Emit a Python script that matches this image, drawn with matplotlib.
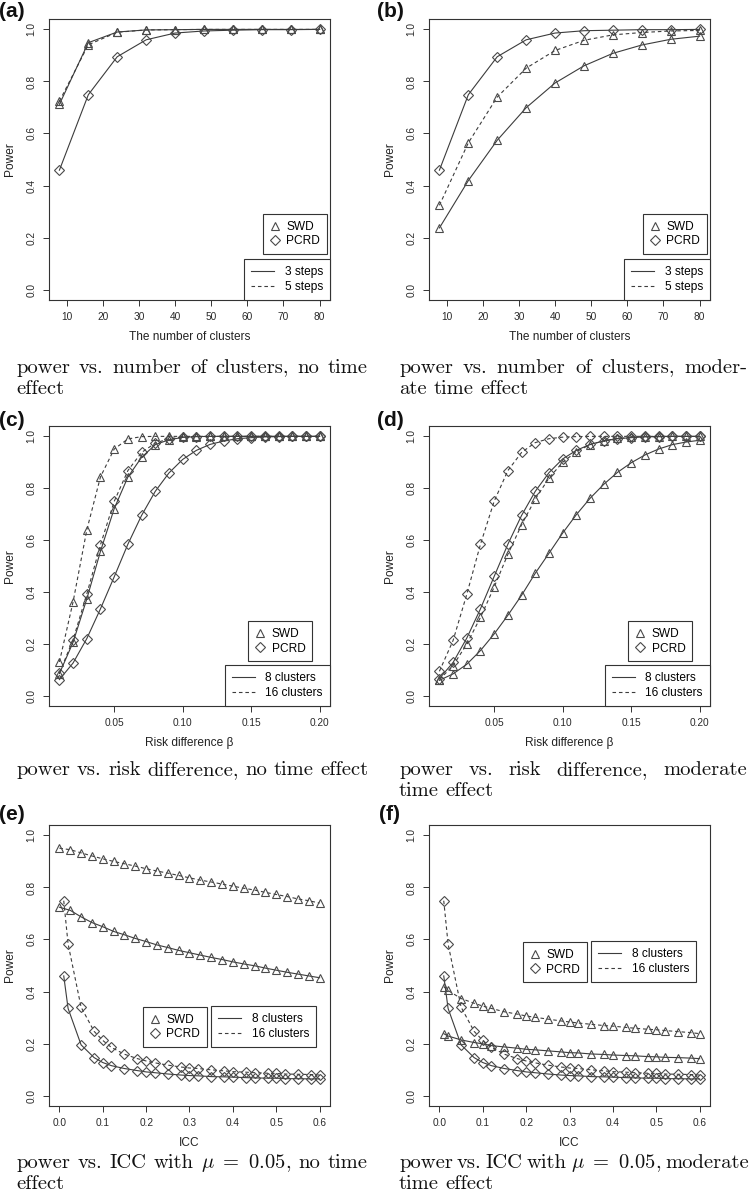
import matplotlib
matplotlib.use('Agg')
import matplotlib.pyplot as plt
from matplotlib.lines import Line2D

plt.rcParams['font.family'] = ['Liberation Sans', 'DejaVu Sans']
plt.rcParams['mathtext.fontset'] = 'cm'

W, H = 749, 1201

# ---------------- data ----------------
clusters = [8, 16, 24, 32, 40, 48, 56, 64, 72, 80]
a_swd_3 = [0.712, 0.949, 0.990, 0.998, 0.999, 1.0, 1.0, 1.0, 1.0, 1.0]
a_swd_5 = [0.724, 0.941, 0.989, 0.998, 0.999, 1.0, 1.0, 1.0, 1.0, 1.0]
a_pcrd = [0.459, 0.749, 0.895, 0.960, 0.986, 0.994, 0.997, 0.999, 0.999, 1.0]
b_swd_3 = [0.237, 0.419, 0.574, 0.699, 0.794, 0.860, 0.908, 0.940, 0.962, 0.974]
b_swd_5 = [0.324, 0.564, 0.740, 0.851, 0.919, 0.958, 0.979, 0.988, 0.994, 0.996]
b_pcrd = [0.459, 0.749, 0.895, 0.960, 0.986, 0.995, 0.997, 0.999, 0.999, 1.0]

risk = [0.01, 0.02, 0.03, 0.04, 0.05, 0.06, 0.07, 0.08, 0.09, 0.10,
        0.11, 0.12, 0.13, 0.14, 0.15, 0.16, 0.17, 0.18, 0.19, 0.20]
c_swd_8 = [0.085, 0.206, 0.373, 0.557, 0.721, 0.843, 0.919, 0.968, 0.987, 0.996,
           0.999, 1.0, 1.0, 1.0, 1.0, 1.0, 1.0, 1.0, 1.0, 1.0]
c_swd_16 = [0.130, 0.362, 0.639, 0.844, 0.951, 0.990, 0.999, 1.0, 1.0, 1.0,
            1.0, 1.0, 1.0, 1.0, 1.0, 1.0, 1.0, 1.0, 1.0, 1.0]
c_pcrd_8 = [0.062, 0.126, 0.220, 0.335, 0.458, 0.584, 0.695, 0.788, 0.859, 0.911,
            0.946, 0.969, 0.982, 0.991, 0.995, 0.998, 0.999, 1.0, 1.0, 1.0]
c_pcrd_16 = [0.087, 0.216, 0.392, 0.582, 0.749, 0.868, 0.938, 0.974, 0.991, 0.997,
             0.999, 1.0, 1.0, 1.0, 1.0, 1.0, 1.0, 1.0, 1.0, 1.0]
d_swd_8 = [0.059, 0.084, 0.121, 0.174, 0.238, 0.310, 0.387, 0.472, 0.549, 0.627,
           0.698, 0.761, 0.815, 0.861, 0.898, 0.928, 0.951, 0.968, 0.978, 0.985]
d_swd_16 = [0.062, 0.116, 0.199, 0.302, 0.419, 0.545, 0.659, 0.758, 0.839, 0.900,
            0.941, 0.968, 0.983, 0.992, 0.996, 0.998, 0.999, 1.0, 1.0, 1.0]
d_pcrd_8 = [0.066, 0.128, 0.222, 0.335, 0.460, 0.584, 0.695, 0.788, 0.860, 0.913,
            0.946, 0.969, 0.982, 0.991, 0.995, 0.998, 0.999, 1.0, 1.0, 1.0]
d_pcrd_16 = [0.094, 0.213, 0.391, 0.584, 0.750, 0.868, 0.938, 0.976, 0.991, 0.997,
             0.999, 1.0, 1.0, 1.0, 1.0, 1.0, 1.0, 1.0, 1.0, 1.0]

icc_fine = [0.0, 0.025, 0.05, 0.075, 0.1, 0.125, 0.15, 0.175, 0.2, 0.225, 0.25, 0.275, 0.3,
            0.325, 0.35, 0.375, 0.4, 0.425, 0.45, 0.475, 0.5, 0.525, 0.55, 0.575, 0.6]
icc = [0.01, 0.02, 0.05, 0.08, 0.10, 0.12, 0.15, 0.18, 0.20, 0.22, 0.25, 0.28, 0.30,
       0.32, 0.35, 0.38, 0.40, 0.43, 0.45, 0.48, 0.50, 0.52, 0.55, 0.58, 0.60]
e_swd_8 = [0.724, 0.712, 0.687, 0.665, 0.649, 0.631, 0.618, 0.604, 0.592, 0.579, 0.569, 0.558, 0.549,
           0.540, 0.531, 0.523, 0.514, 0.506, 0.499, 0.490, 0.482, 0.474, 0.467, 0.460, 0.453]
e_swd_16 = [0.951, 0.945, 0.933, 0.921, 0.910, 0.900, 0.891, 0.882, 0.872, 0.863, 0.855, 0.846, 0.837,
            0.828, 0.821, 0.813, 0.805, 0.797, 0.790, 0.781, 0.773, 0.765, 0.756, 0.749, 0.740]
e_pcrd_8 = [0.460, 0.335, 0.195, 0.146, 0.127, 0.115, 0.104, 0.096, 0.091, 0.088, 0.083, 0.079, 0.077,
            0.076, 0.073, 0.072, 0.071, 0.069, 0.068, 0.067, 0.067, 0.065, 0.065, 0.064, 0.064]
e_pcrd_16 = [0.749, 0.583, 0.340, 0.247, 0.212, 0.185, 0.159, 0.142, 0.133, 0.126, 0.117, 0.110, 0.106,
             0.104, 0.099, 0.095, 0.092, 0.090, 0.088, 0.086, 0.085, 0.083, 0.082, 0.081, 0.079]
f_swd_8 = [0.238, 0.229, 0.214, 0.204, 0.199, 0.192, 0.187, 0.182, 0.178, 0.176, 0.172, 0.168, 0.165,
           0.164, 0.160, 0.158, 0.156, 0.154, 0.153, 0.150, 0.149, 0.147, 0.146, 0.144, 0.142]
f_swd_16 = [0.419, 0.404, 0.373, 0.355, 0.344, 0.335, 0.322, 0.313, 0.306, 0.301, 0.294, 0.287, 0.283,
            0.279, 0.274, 0.269, 0.267, 0.262, 0.259, 0.255, 0.253, 0.250, 0.246, 0.242, 0.238]
f_pcrd_8 = [0.460, 0.335, 0.195, 0.146, 0.127, 0.115, 0.104, 0.096, 0.091, 0.088, 0.083, 0.079, 0.077,
            0.076, 0.073, 0.072, 0.071, 0.069, 0.068, 0.067, 0.067, 0.065, 0.065, 0.064, 0.064]
f_pcrd_16 = [0.749, 0.583, 0.340, 0.247, 0.212, 0.185, 0.159, 0.142, 0.133, 0.126, 0.117, 0.110, 0.106,
             0.104, 0.099, 0.095, 0.092, 0.090, 0.088, 0.086, 0.085, 0.083, 0.082, 0.081, 0.079]

power_ticks = [0.0, 0.2, 0.4, 0.6, 0.8, 1.0]
cluster_ticks = [10, 20, 30, 40, 50, 60, 70, 80]
risk_ticks = [0.05, 0.10, 0.15, 0.20]
icc_ticks = [0.0, 0.1, 0.2, 0.3, 0.4, 0.5, 0.6]

panel_labels = ['(a)', '(b)', '(c)', '(d)', '(e)', '(f)']
captions = [
    (["power", "vs.", "number", "of", "clusters,", "no", "time"], ["effect"]),
    (["power", "vs.", "number", "of", "clusters,", "moder-"], ["ate", "time", "effect"]),
    (["power", "vs.", "risk", "difference,", "no", "time", "effect"], []),
    (["power", "vs.", "risk", "difference,", "moderate"], ["time", "effect"]),
    (["power", "vs.", "ICC", "with", r"$\mu\ =\ 0.05$,", "no", "time"], ["effect"]),
    (["power", "vs.", "ICC", "with", r"$\mu\ =\ 0.05$,", "moderate"], ["time", "effect"]),
]

# ---------------- style ----------------
LC = '#3c3c3c'
MC = '#4a4a4a'
AC = '#333333'
LW = 0.8
DASH = (3.2, 2.6)
CAP_FS = 14.8

fig = plt.figure(figsize=(W / 100, H / 100), dpi=100)


def px_axes(l, t, r, b):
    return fig.add_axes([l / W, 1 - b / H, (r - l) / W, (b - t) / H])


boxes = [(49, 19, 330, 300), (429, 19, 710, 300),
         (49, 426, 330, 706), (429, 426, 710, 706),
         (49, 825, 330, 1106), (429, 825, 710, 1106)]
axes = [px_axes(*bx) for bx in boxes]


def series(ax, x, y, marker, dashed):
    kw = dict(color=LC, lw=LW, marker=marker, mfc='none', mec=MC, mew=0.8,
              ms=5.6 if marker == '^' else 4.6)
    line, = ax.plot(x, y, **kw)
    if dashed:
        line.set_dashes(DASH)


def setup(ax, xlim, xticks, xfmt, xlabel):
    ax.set_xlim(*xlim)
    ax.set_ylim(-0.04, 1.04)
    ax.set_xticks(xticks)
    ax.set_xticklabels([xfmt.format(v) for v in xticks])
    ax.set_yticks(power_ticks)
    ax.set_yticklabels(['{:.1f}'.format(v) for v in power_ticks])
    ax.tick_params(length=4.5, width=0.7, color=AC, labelsize=7.3, labelcolor='#2a2a2a')
    ax.tick_params(axis='x', pad=4)
    ax.tick_params(axis='y', pad=4.5)
    for lab in ax.get_yticklabels():
        lab.set_rotation(90)
        lab.set_va('center')
    for s in ax.spines.values():
        s.set_color(AC)
        s.set_linewidth(0.8)
    ax.set_xlabel(xlabel, fontsize=8.6, color='#222222')
    ax.xaxis.set_label_coords(0.5, -37 / 281)
    ax.xaxis.label.set_va('center')
    ax.set_ylabel('Power', fontsize=8.6, color='#222222')
    ax.yaxis.set_label_coords(-38.5 / 281, 0.5)
    ax.yaxis.label.set_va('center')


def legends(ax, lab1, lab2, mark_anchor, mark_loc, line_anchor, line_loc):
    hm = [Line2D([], [], ls='none', marker='^', mfc='none', mec=MC, mew=0.8, ms=5.6, label='SWD'),
          Line2D([], [], ls='none', marker='D', mfc='none', mec=MC, mew=0.8, ms=4.6, label='PCRD')]
    common = dict(fontsize=8.6, frameon=True, fancybox=False, edgecolor=AC, framealpha=1,
                  borderaxespad=0, labelspacing=0.22)
    leg1 = ax.legend(handles=hm, loc=mark_loc, bbox_to_anchor=mark_anchor, borderpad=0.55,
                     handlelength=1.0, handletextpad=0.45, **common)
    leg1.get_frame().set_linewidth(0.8)
    ax.add_artist(leg1)
    l1 = Line2D([], [], color=LC, lw=LW, label=lab1)
    l2 = Line2D([], [], color=LC, lw=LW, label=lab2)
    l2.set_dashes(DASH)
    leg2 = ax.legend(handles=[l1, l2], loc=line_loc, bbox_to_anchor=line_anchor, borderpad=0.6,
                     handlelength=1.9, handletextpad=0.9, **common)
    leg2.get_frame().set_linewidth(0.8)


# (a)
ax = axes[0]
series(ax, clusters, a_pcrd, 'D', False)
series(ax, clusters, a_swd_3, '^', False)
series(ax, clusters, a_swd_5, '^', True)
setup(ax, (5.12, 82.88), cluster_ticks, '{:d}', 'The number of clusters')
legends(ax, '3 steps', '5 steps', (0.989, 0.164), 'lower right', (1, 0), 'lower right')

# (b)
ax = axes[1]
series(ax, clusters, b_pcrd, 'D', False)
series(ax, clusters, b_swd_3, '^', False)
series(ax, clusters, b_swd_5, '^', True)
setup(ax, (5.12, 82.88), cluster_ticks, '{:d}', 'The number of clusters')
legends(ax, '3 steps', '5 steps', (0.989, 0.164), 'lower right', (1, 0), 'lower right')

# (c)
ax = axes[2]
series(ax, risk, c_pcrd_8, 'D', False)
series(ax, risk, c_pcrd_16, 'D', True)
series(ax, risk, c_swd_8, '^', False)
series(ax, risk, c_swd_16, '^', True)
setup(ax, (0.0024, 0.2076), risk_ticks, '{:.2f}', 'Risk difference β')
legends(ax, '8 clusters', '16 clusters', (0.936, 0.16), 'lower right', (1, 0), 'lower right')

# (d)
ax = axes[3]
series(ax, risk, d_pcrd_8, 'D', False)
series(ax, risk, d_pcrd_16, 'D', True)
series(ax, risk, d_swd_8, '^', False)
series(ax, risk, d_swd_16, '^', True)
setup(ax, (0.0024, 0.2076), risk_ticks, '{:.2f}', 'Risk difference β')
legends(ax, '8 clusters', '16 clusters', (0.936, 0.16), 'lower right', (1, 0), 'lower right')

# (e)
ax = axes[4]
series(ax, icc, e_pcrd_8, 'D', False)
series(ax, icc, e_pcrd_16, 'D', True)
series(ax, icc_fine, e_swd_8, '^', False)
series(ax, icc_fine, e_swd_16, '^', True)
setup(ax, (-0.024, 0.624), icc_ticks, '{:.1f}', 'ICC')
legends(ax, '8 clusters', '16 clusters', (0.562, 0.21), 'lower right', (0.577, 0.21), 'lower left')

# (f)
ax = axes[5]
series(ax, icc, f_pcrd_8, 'D', False)
series(ax, icc, f_pcrd_16, 'D', True)
series(ax, icc, f_swd_8, '^', False)
series(ax, icc, f_swd_16, '^', True)
setup(ax, (-0.024, 0.624), icc_ticks, '{:.1f}', 'ICC')
legends(ax, '8 clusters', '16 clusters', (0.562, 0.441), 'lower right', (0.577, 0.441), 'lower left')

# panel labels
label_pos = [(-1, 17), (377, 17), (-1, 426), (377, 426), (-1, 820), (379, 820)]
for txt, (x, y) in zip(panel_labels, label_pos):
    fig.text(x / W, 1 - y / H, txt, fontsize=15, fontweight='bold', ha='left', va='baseline',
             color='#111111')

# captions (justified, Computer Modern)
fig.canvas.draw()
renderer = fig.canvas.get_renderer()


def text_width(s, fs):
    t = fig.text(0, 0, s, fontsize=fs, family='cmr10')
    w = t.get_window_extent(renderer).width
    t.remove()
    return w


space_px = 0.333 * CAP_FS * 100 / 72
cols = [(16.5, 368), (399, 747.5)] * 3
rows_y = [(373, 394), (373, 394), (775, 796), (775, 796), (1168, 1189), (1168, 1189)]


def draw_words(words, x0, y, gap):
    x = x0
    for w in words:
        fig.text(x / W, 1 - y / H, w, fontsize=CAP_FS, family='cmr10', ha='left', va='baseline',
                 color='#111111')
        x += text_width(w, CAP_FS) + gap


for (words, tail), (x0, x1), (y1, y2) in zip(captions, cols, rows_y):
    widths = [text_width(w, CAP_FS) for w in words]
    gap = max((x1 - x0 - sum(widths)) / (len(words) - 1), 0.6 * space_px)
    draw_words(words, x0, y1, gap)
    if tail:
        draw_words(tail, x0, y2, space_px)

fig.savefig('out.png', dpi=100)
